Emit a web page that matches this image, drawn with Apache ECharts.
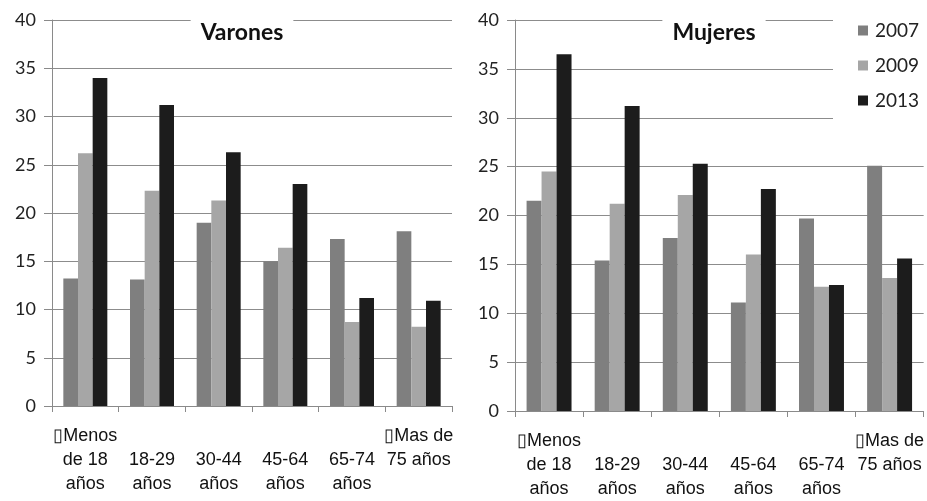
<!DOCTYPE html>
<html>
<head>
<meta charset="utf-8">
<script src="https://cdn.jsdelivr.net/npm/echarts@6/dist/echarts.min.js"></script>
<style>
  html, body { margin: 0; padding: 0; background: #fff; }
  #chart { width: 927px; height: 501px; }
</style>
</head>
<body>
<div id="chart"></div>
<script>
// Age groups (the glyph before "Menos" / "Mas" is part of the original labels)
const categories = [
  '\u25AFMenos\nde 18\naños',
  '\n18-29\naños',
  '\n30-44\naños',
  '\n45-64\naños',
  '\n65-74\naños',
  '\u25AFMas de\n75 años'
];
const years = ['2007', '2009', '2013'];

// Varones
const varones2007 = [13.2, 13.1, 19.0, 15.0, 17.3, 18.1];
const varones2009 = [26.2, 22.3, 21.3, 16.4, 8.7, 8.2];
const varones2013 = [34.0, 31.2, 26.3, 23.0, 11.2, 10.9];

// Mujeres
const mujeres2007 = [21.5, 15.4, 17.7, 11.1, 19.7, 25.1];
const mujeres2009 = [24.5, 21.2, 22.1, 16.0, 12.7, 13.6];
const mujeres2013 = [36.5, 31.2, 25.3, 22.7, 12.9, 15.6];

const yTicks = { min: 0, max: 40, interval: 5 };
const colors = ['#7f7f7f', '#a6a6a6', '#1c1c1c'];

const chart = echarts.init(document.getElementById('chart'));

function xAxis(gridIndex) {
  return {
    type: 'category',
    gridIndex,
    data: categories,
    axisLine: { lineStyle: { color: '#8a8a8a', width: 1 } },
    axisTick: { show: true, interval: 0, length: 6, lineStyle: { color: '#8a8a8a' } },
    axisLabel: {
      interval: 0,
      margin: 18,
      color: '#111',
      fontFamily: 'Liberation Sans',
      fontSize: 18,
      lineHeight: 24,
      verticalAlign: 'top'
    }
  };
}

function yAxis(gridIndex) {
  return {
    type: 'value',
    gridIndex,
    min: yTicks.min,
    max: yTicks.max,
    interval: yTicks.interval,
    axisLine: { show: true, lineStyle: { color: '#8a8a8a', width: 1 } },
    axisTick: { show: true, length: 8, lineStyle: { color: '#8a8a8a' } },
    splitLine: { lineStyle: { color: '#8c8c8c', width: 1 } },
    axisLabel: {
      margin: 16,
      color: '#222',
      fontFamily: 'Lato',
      fontSize: 18
    }
  };
}

function bars(name, data, idx, axisIndex) {
  return {
    name,
    type: 'bar',
    xAxisIndex: axisIndex,
    yAxisIndex: axisIndex,
    data,
    barGap: '0%',
    barCategoryGap: '34%',
    itemStyle: { color: colors[idx] },
    animation: false
  };
}

const titleStyle = { fontFamily: 'Lato', fontWeight: 'bold', fontSize: 23, color: '#111' };

chart.setOption({
  animation: false,
  title: [
    { text: 'Varones', left: 232, top: 17, textAlign: 'center', backgroundColor: '#fff',
      padding: [4, 10], textStyle: titleStyle },
    { text: 'Mujeres', left: 704, top: 17, textAlign: 'center', backgroundColor: '#fff',
      padding: [4, 10], textStyle: titleStyle }
  ],
  legend: {
    data: years,
    orient: 'vertical',
    left: 833,
    top: 11,
    backgroundColor: '#fff',
    padding: [10, 10, 12, 25],
    itemWidth: 10,
    itemHeight: 10,
    itemGap: 16,
    icon: 'rect',
    textStyle: { fontFamily: 'Lato', fontSize: 19, color: '#222', padding: [0, 0, 0, 2] }
  },
  grid: [
    { left: 52, right: 475, top: 20, bottom: 95 },
    { left: 515, right: 2, top: 20, bottom: 89 }
  ],
  xAxis: [xAxis(0), xAxis(1)],
  yAxis: [yAxis(0), yAxis(1)],
  series: [
    bars('2007', varones2007, 0, 0),
    bars('2009', varones2009, 1, 0),
    bars('2013', varones2013, 2, 0),
    bars('2007', mujeres2007, 0, 1),
    bars('2009', mujeres2009, 1, 1),
    bars('2013', mujeres2013, 2, 1)
  ]
});
</script>
</body>
</html>
